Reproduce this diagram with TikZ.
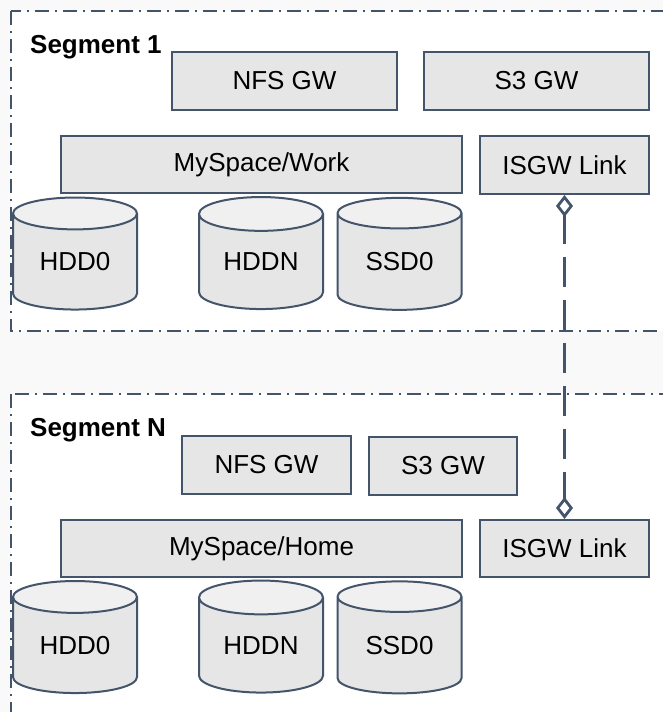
\documentclass[tikz,border=0pt]{standalone}
\usepackage{fontspec}
\setmainfont{Liberation Sans}
\usepackage{tikz}
\usetikzlibrary{shapes.geometric,arrows.meta}

\definecolor{edgecolor}{RGB}{68,84,106}
\definecolor{boxfill}{RGB}{230,230,230}
\definecolor{capfill}{RGB}{240,240,240}
\definecolor{pagefill}{RGB}{249,249,249}

\tikzset{
    segment/.style={draw=edgecolor, line width=1.6pt, fill=white,
        dash pattern=on 14pt off 6pt on 2pt off 6pt},
    seglabel/.style={anchor=base west, inner sep=0pt,
        font=\fontsize{26}{31}\selectfont\bfseries},
    gwbox/.style={draw=edgecolor, line width=2pt, fill=boxfill,
        inner sep=0pt, minimum height=58pt,
        font=\fontsize{26}{31}\selectfont},
    disk/.style={cylinder, shape border rotate=90, aspect=0.45,
        draw=edgecolor, line width=2pt, inner sep=0pt,
        cylinder uses custom fill, cylinder body fill=boxfill,
        cylinder end fill=capfill,
        minimum width=124pt, minimum height=112pt,
        font=\fontsize{26}{31}\selectfont},
    isgw/.style={draw=edgecolor, line width=3.6pt,
        dash pattern=on 30pt off 13pt,
        {Diamond[open,fill=white,length=22pt,width=17pt,line width=2.8pt]}-{Diamond[open,fill=white,length=22pt,width=17pt,line width=2.8pt]}}
}

\begin{document}
\begin{tikzpicture}[x=1pt, y=-1pt]
    % page and the two segments
    \fill[pagefill] (0,0) rectangle (663,712);
    \useasboundingbox (0,0) rectangle (663,712);
    \draw[segment] (11,11) rectangle (690,331);
    \draw[segment] (11,394) rectangle (690,760);

    % segment 1
    \node[seglabel] (seg1) at (30,53) {Segment 1};
    \node[gwbox, minimum width=225pt] (nfs1) at (284.5,81) {NFS GW};
    \node[gwbox, minimum width=225pt] (s31) at (536.5,81) {S3 GW};
    \node[gwbox, minimum width=401pt, minimum height=57pt] (work) at (261.5,164.5) {MySpace/Work};
    \node[gwbox, minimum width=169pt] (link1) at (564.5,165) {ISGW Link};
    \node[disk] (hdd01) at (75,262) {HDD0};
    \node[disk] (hddn1) at (261,262) {HDDN};
    \node[disk] (ssd01) at (399.5,262) {SSD0};

    % segment N
    \node[seglabel] (segn) at (30,436) {Segment N};
    \node[gwbox, minimum width=169pt] (nfsn) at (266.5,465) {NFS GW};
    \node[gwbox, minimum width=148pt] (s3n) at (443,466) {S3 GW};
    \node[gwbox, minimum width=401pt, minimum height=57pt] (home) at (261.5,548.5) {MySpace/Home};
    \node[gwbox, minimum width=169pt, minimum height=57pt] (linkn) at (564.5,548.5) {ISGW Link};
    \node[disk] (hdd0n) at (75,645.5) {HDD0};
    \node[disk] (hddnn) at (261,645.5) {HDDN};
    \node[disk] (ssd0n) at (399.5,645.5) {SSD0};

    % link between the segments
    \draw[isgw] (link1.south) -- (linkn.north);
\end{tikzpicture}
\end{document}
